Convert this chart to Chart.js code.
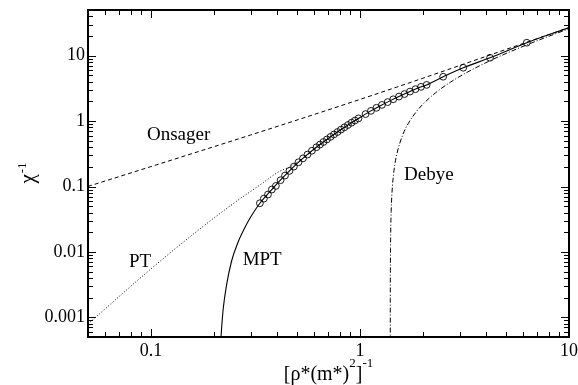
<!DOCTYPE html>
<html>
<head>
<meta charset="utf-8">
<script src="https://cdn.jsdelivr.net/npm/chart.js@4.4.0/dist/chart.umd.min.js"></script>
<style>
  html, body { margin: 0; padding: 0; background: #fff; }
</style>
</head>
<body>
<canvas id="chart" width="578" height="385"></canvas>
<script>
// Simulation points (circles)
const simX = [0.332, 0.347, 0.363, 0.379, 0.396, 0.417, 0.438, 0.460, 0.483, 0.508, 0.534, 0.561, 0.589, 0.619,
  0.644, 0.669, 0.695, 0.723, 0.751, 0.781, 0.811, 0.843, 0.876, 0.911, 0.946, 0.984,
  1.063, 1.129, 1.199, 1.274, 1.357, 1.443, 1.537, 1.633, 1.735, 1.843, 1.958, 2.085,
  2.50, 3.12, 4.19, 6.28];
const simY = [0.0555, 0.0653, 0.0754, 0.0900, 0.1021, 0.1249, 0.1471, 0.1733, 0.2017, 0.2348, 0.2694, 0.3080, 0.3521, 0.3984,
  0.4383, 0.4795, 0.5246, 0.5739, 0.6255, 0.6810, 0.7410, 0.8037, 0.8716, 0.9452, 1.0195, 1.102,
  1.280, 1.435, 1.598, 1.770, 1.954, 2.157, 2.373, 2.592, 2.830, 3.080, 3.340, 3.58,
  4.77, 6.55, 9.31, 15.8];

// MPT (solid)
const mptX = [0.2156, 0.2164, 0.218, 0.222, 0.23, 0.243, 0.26, 0.28, 0.30, 0.332, 0.371, 0.414, 0.4625, 0.5164, 0.5764,
  0.6435, 0.7186, 0.802, 0.8957, 1.0, 1.1165, 1.2466, 1.391, 1.5536, 1.735, 1.937, 2.085, 2.5, 3.12, 4.19, 6.28, 10];
const mptY = [0.0004, 0.0005, 0.00071, 0.0014, 0.0031, 0.0072, 0.0136, 0.0228, 0.0341, 0.0555, 0.0833, 0.1227, 0.1765, 0.2466, 0.3329,
  0.4383, 0.5668, 0.7232, 0.9125, 1.139, 1.408, 1.709, 2.039, 2.415, 2.83, 3.293, 3.58, 4.77, 6.55, 9.31, 15.8, 26.9];

// PT (dotted)
const ptX = [0.05, 0.1, 0.1716, 0.25, 0.33, 0.4065, 0.47, 0.55, 0.6435, 0.8, 1.0];
const ptY = [0.00079, 0.0055, 0.0225, 0.056, 0.104, 0.166, 0.205, 0.29, 0.44, 0.72, 1.14];

// Onsager (dashed)
const onsagerX = [0.05, 0.1, 0.2, 0.3, 0.5, 1, 1.5, 2, 3, 5, 7, 10];
const onsagerY = [0.1004, 0.2016, 0.4063, 0.614, 1.0385, 2.146, 3.313, 4.53, 7.082, 12.49, 18.13, 26.8];

// Debye (dash-dot)
const debyeX = [1.3963, 1.3966, 1.397, 1.398, 1.4, 1.405, 1.41, 1.42, 1.44, 1.47, 1.5, 1.6, 1.7, 1.85, 2.0, 2.3, 2.7, 3.2, 4, 5, 6.5, 8, 10];
const debyeY = [0.0001, 0.001, 0.0022, 0.0052, 0.0112, 0.0262, 0.0412, 0.0712, 0.1312, 0.2212, 0.3112, 0.6112, 0.9112, 1.3612,
  1.8112, 2.7112, 3.9112, 5.4112, 7.8112, 10.811, 15.311, 19.811, 25.811];

// Axis ticks with labels
const xMajor = [0.1, 1, 10];
const yMajor = [0.001, 0.01, 0.1, 1, 10];

// Curve labels, placed in data coordinates
const curveLabels = [
  { text: 'Onsager', x: 0.0957, y: 0.512 },
  { text: 'PT', x: 0.0785, y: 0.00583 },
  { text: 'MPT', x: 0.2747, y: 0.0062 },
  { text: 'Debye', x: 1.624, y: 0.125 }
];

const FONT = "'Liberation Serif', 'Times New Roman', serif";
Chart.defaults.font.family = FONT;
Chart.defaults.color = '#000';

const pts = (xs, ys) => xs.map((x, i) => ({ x: x, y: ys[i] }));
const isMajor = (list, v) => list.some(m => Math.abs(v / m - 1) < 1e-6);

// 1..9 x 10^n marks inside an axis range (for the minor tick marks)
function logMarks(min, max) {
  const out = [];
  for (let e = Math.floor(Math.log10(min)); e <= Math.ceil(Math.log10(max)); e++) {
    for (let k = 1; k <= 9; k++) {
      const v = k * Math.pow(10, e);
      if (v >= min * 0.9999 && v <= max * 1.0001) out.push(v);
    }
  }
  return out;
}

function lineSet(xs, ys, dash, width) {
  return {
    data: pts(xs, ys),
    showLine: true,
    borderColor: '#000',
    borderWidth: width,
    borderDash: dash,
    pointRadius: 0,
    cubicInterpolationMode: 'monotone',
    fill: false
  };
}

const decorations = {
  id: 'decorations',
  afterDatasetsDraw(chart) {
    const { ctx, chartArea: a, scales } = chart;
    const xs = scales.x, ys = scales.y;
    ctx.save();
    ctx.setLineDash([]);
    ctx.fillStyle = '#000';

    logMarks(xs.min, xs.max).forEach(v => {
      const px = Math.round(xs.getPixelForValue(v));
      const len = isMajor(xMajor, v) ? 8 : 5;
      ctx.fillRect(px, a.bottom - len, 1, len);
      ctx.fillRect(px, a.top, 1, len);
    });
    logMarks(ys.min, ys.max).forEach(v => {
      const py = Math.round(ys.getPixelForValue(v));
      const len = isMajor(yMajor, v) ? 8 : 5;
      ctx.fillRect(a.left, py, len, 1);
      ctx.fillRect(a.right - len, py, len, 1);
    });

    ctx.strokeStyle = '#000';
    ctx.lineWidth = 2;
    ctx.strokeRect(a.left, a.top, a.width, a.height);

    // curve labels
    ctx.font = '19px ' + FONT;
    ctx.textAlign = 'left';
    ctx.textBaseline = 'alphabetic';
    curveLabels.forEach(l => {
      ctx.fillText(l.text, xs.getPixelForValue(l.x), ys.getPixelForValue(l.y));
    });

    // x title: [ρ*(m*)^2]^-1
    const parts = [['[ρ*(m*)', 20, 0], ['2', 13, -13], [']', 20, 0], ['-1', 13, -13]];
    let total = 0;
    parts.forEach(p => { ctx.font = p[1] + 'px ' + FONT; total += ctx.measureText(p[0]).width; });
    let cx = (a.left + a.right) / 2 - total / 2;
    const base = 380;
    parts.forEach(p => {
      ctx.font = p[1] + 'px ' + FONT;
      ctx.fillText(p[0], cx, base + p[2]);
      cx += ctx.measureText(p[0]).width;
    });

    // y title: χ^-1, rotated
    ctx.font = '21px ' + FONT;
    const wChi = ctx.measureText('χ').width;
    ctx.font = '13px ' + FONT;
    const wSup = ctx.measureText('-1').width;
    ctx.translate(34, (a.top + a.bottom) / 2 + (wChi + wSup) / 2);
    ctx.rotate(-Math.PI / 2);
    ctx.font = '21px ' + FONT;
    ctx.fillText('χ', 0, 0);
    ctx.font = '13px ' + FONT;
    ctx.fillText('-1', wChi + 1, -8);
    ctx.restore();
  }
};

function noPad(s) {
  s.paddingTop = 0; s.paddingBottom = 0; s.paddingLeft = 0; s.paddingRight = 0;
}

new Chart(document.getElementById('chart'), {
  type: 'scatter',
  data: {
    datasets: [
      {
        data: pts(simX, simY),
        showLine: false,
        pointStyle: 'circle',
        pointRadius: 3.4,
        pointBorderWidth: 0.9,
        pointBorderColor: '#000',
        pointBackgroundColor: 'rgba(0,0,0,0)'
      },
      lineSet(mptX, mptY, [], 1.1),
      lineSet(ptX, ptY, [1, 2], 1),
      lineSet(onsagerX, onsagerY, [4, 3], 1),
      lineSet(debyeX, debyeY, [5, 2, 1, 2], 1)
    ]
  },
  options: {
    responsive: false,
    animation: false,
    events: [],
    layout: { padding: { top: 10, right: 9, left: 0, bottom: 0 } },
    plugins: { legend: { display: false }, tooltip: { enabled: false } },
    scales: {
      x: {
        type: 'logarithmic',
        min: 0.05,
        max: 10,
        grid: { display: false, drawTicks: false },
        border: { display: false },
        afterFit: s => { s.height = 48; noPad(s); },
        ticks: {
          autoSkip: false,
          maxRotation: 0,
          padding: 3,
          font: { size: 18 },
          color: '#000',
          callback: v => isMajor(xMajor, v) ? String(xMajor.find(m => isMajor([m], v))) : null
        }
      },
      y: {
        type: 'logarithmic',
        min: 0.0005,
        max: 50,
        grid: { display: false, drawTicks: false },
        border: { display: false },
        afterFit: s => { s.width = 88; noPad(s); },
        ticks: {
          autoSkip: false,
          padding: 3,
          font: { size: 18 },
          color: '#000',
          callback: v => isMajor(yMajor, v) ? String(yMajor.find(m => isMajor([m], v))) : null
        }
      }
    }
  },
  plugins: [decorations]
});
</script>
</body>
</html>
